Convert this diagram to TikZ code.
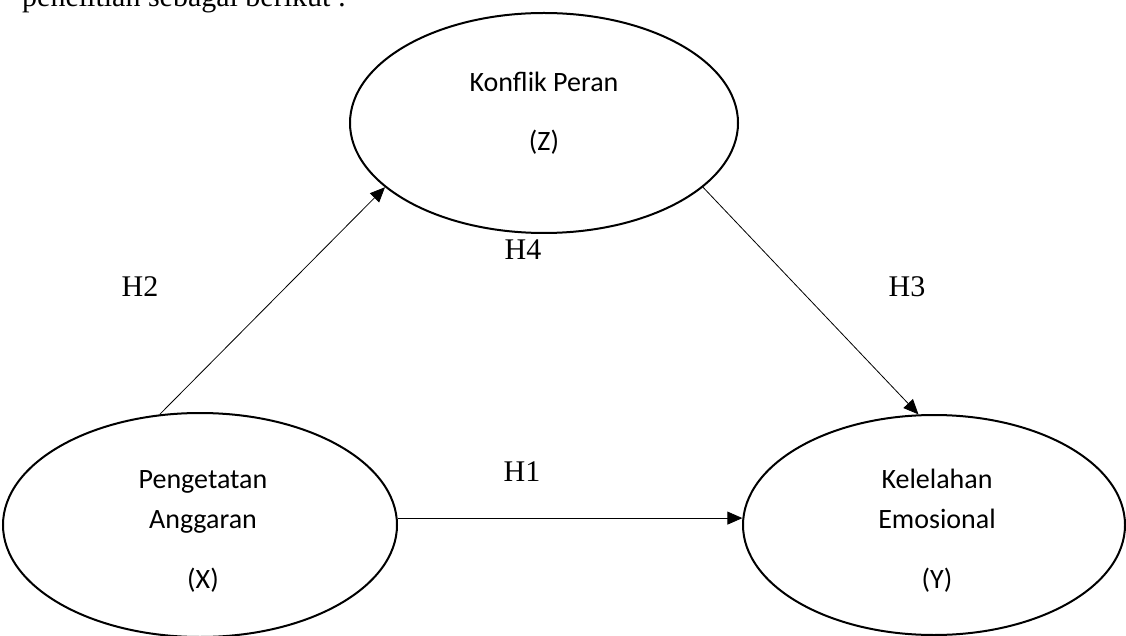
\documentclass[tikz,border=0pt]{standalone}
\usepackage{fontspec}
\setmainfont{Liberation Serif}
\newfontfamily\bodyfont{Carlito}
\usepackage{tikz}
\usetikzlibrary{positioning,arrows.meta,shapes.geometric}
\tikzset{
  oval/.style ={draw=black, ellipse, line width=2pt, inner sep=0pt},
  txt/.style  ={font=\bodyfont\fontsize{28}{32}\selectfont, anchor=base, inner sep=0pt},
  hyp/.style  ={font=\fontsize{30}{34}\selectfont, inner sep=0pt},
  arr/.style  ={-{Triangle[length=15pt,width=13pt]}, draw=black, line width=0.8pt},
}

\begin{document}
\begin{tikzpicture}[x=1pt,y=1pt]
\useasboundingbox (0,0) rectangle (1126,635);
\clip (0,0) rectangle (1126,635);
% page text above the figure
\node[font=\fontsize{30}{34}\selectfont, anchor=base west, inner sep=0pt] (intro) at (22,628) {penelitian sebagai berikut :};
% variables
\node[oval, minimum width=388pt, minimum height=220pt] (Z) at (544,512) {};
\node[oval, minimum width=394pt, minimum height=224pt] (X) at (200,110) {};
\node[oval, minimum width=382pt, minimum height=220pt] (Y) at (934,110) {};
\node[txt] (z1) at ([yshift=31pt]Z.center) {Konflik Peran};
\node[txt] (z2) at ([yshift=-28pt]Z.center) {(Z)};
\node[txt] (x1) at ([xshift=3pt,yshift=37pt]X.center) {Pengetatan};
\node[txt] (x2) at ([xshift=3pt,yshift=-3pt]X.center) {Anggaran};
\node[txt] (x3) at ([xshift=3pt,yshift=-63pt]X.center) {(X)};
\node[txt] (y1) at ([xshift=3pt,yshift=37pt]Y.center) {Kelelahan};
\node[txt] (y2) at ([xshift=3pt,yshift=-3pt]Y.center) {Emosional};
\node[txt] (y3) at ([xshift=3pt,yshift=-63pt]Y.center) {(Y)};
% paths
\draw[arr] (X.110) -- (Z.202);
\draw[arr] (Z.338) -- (Y.98);
\draw[arr] (X.2) -- (X.2 -| Y.178);
% hypotheses
\node[hyp] (h2) at (140,348) {H2};
\node[hyp] (h4) at (523,385) {H4};
\node[hyp] (h3) at (907,348) {H3};
\node[hyp] (h1) at (522,163) {H1};
\end{tikzpicture}
\end{document}
